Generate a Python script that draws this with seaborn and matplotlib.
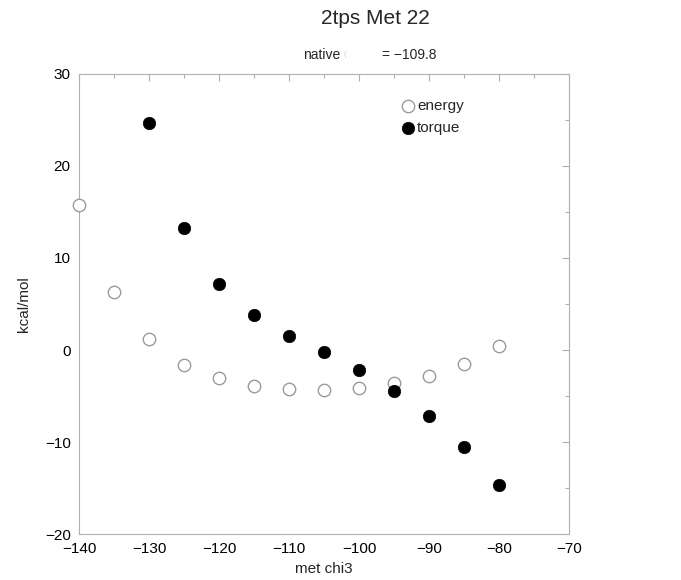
import matplotlib
matplotlib.use("Agg")
import matplotlib.pyplot as plt
import seaborn as sns
import pandas as pd
from matplotlib.ticker import MultipleLocator

chi3 = [-140, -135, -130, -125, -120, -115, -110, -105, -100, -95, -90, -85, -80]
energy = [15.8, 6.3, 1.2, -1.6, -3.0, -3.9, -4.2, -4.3, -4.1, -3.6, -2.8, -1.5, 0.4]
torque_x = [-130, -125, -120, -115, -110, -105, -100, -95, -90, -85, -80]
torque = [24.7, 13.3, 7.2, 3.8, 1.5, -0.2, -2.2, -4.5, -7.2, -10.5, -14.7]

sns.set_style("white")
plt.rcParams['font.family'] = ['Liberation Sans', 'DejaVu Sans']

fig = plt.figure(figsize=(6.81, 5.8), dpi=100)
ax = fig.add_axes([79/681, 1-534/580, 490/681, 460/580])

df_e = pd.DataFrame({"x": chi3, "y": energy})
df_t = pd.DataFrame({"x": torque_x, "y": torque})
sns.scatterplot(data=df_e, x="x", y="y", ax=ax, s=80, facecolor="white",
                edgecolor="#9a9a9a", linewidth=1.0, label="energy", zorder=3,
                clip_on=False)
sns.scatterplot(data=df_t, x="x", y="y", ax=ax, s=80, color="black",
                edgecolor="black", linewidth=0.5, label="torque", zorder=3,
                clip_on=False)

ax.set_xlim(-140, -70)
ax.set_ylim(-20, 30)
ax.xaxis.set_major_locator(MultipleLocator(10))
ax.xaxis.set_minor_locator(MultipleLocator(5))
ax.yaxis.set_major_locator(MultipleLocator(10))
ax.yaxis.set_minor_locator(MultipleLocator(5))
ax.tick_params(which="both", direction="in", top=True, right=True, colors="#b0b0b0",
               labelcolor="black", labelsize=11, width=0.8)
ax.tick_params(which="major", length=5, pad=6)
ax.tick_params(which="minor", length=3)
for sp in ax.spines.values():
    sp.set_color("#b0b0b0")
    sp.set_linewidth(0.8)

ax.set_xlabel("met chi3", fontsize=11, labelpad=4)
ax.set_ylabel("kcal/mol", fontsize=11, labelpad=10)

leg = ax.legend(loc="upper left", bbox_to_anchor=(0.628, 0.972), frameon=False,
                fontsize=11, handletextpad=0.0, labelspacing=0.5, borderpad=0.3,
                handlelength=1.2)

fig.text(375/681, 1-18/580, "2tps Met 22", ha="center", va="center", fontsize=15)
fig.text(340/681, 1-55/580, "native", ha="right", va="center", fontsize=10)
fig.text(344/681, 1-55/580, "(", ha="left", va="center", fontsize=6, color="#cccccc")
fig.text(382/681, 1-55/580, "= \u2212109.8", ha="left", va="center", fontsize=10)

fig.savefig("out.png", dpi=100)
